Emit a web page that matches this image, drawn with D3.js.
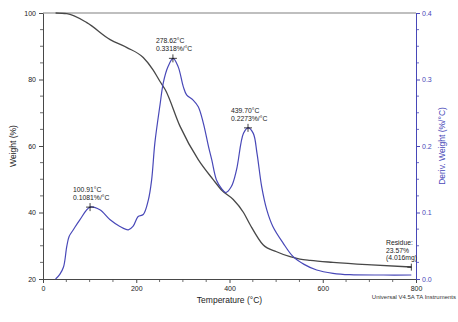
<!DOCTYPE html>
<html>
<head>
<meta charset="utf-8">
<script src="https://cdn.jsdelivr.net/npm/d3@7"></script>
<style>
  body { margin: 0; background: #fff; }
  svg text { font-family: "Liberation Sans", Arial, sans-serif; }
</style>
</head>
<body>
<svg id="chart" width="458" height="322"></svg>
<script>
// Weight (%) vs temperature (°C)
const weightTemp = [27, 51, 94, 144, 180, 215, 236, 251, 262, 294, 333, 365, 384, 408, 430, 444, 472, 501, 530, 551, 573, 622, 695, 790];
const weightVals = [100, 99.8, 97.1, 92, 89.6, 86.6, 82.9, 79.4, 77, 65.9, 55.9, 49.9, 46.6, 43.9, 40, 36.4, 30.3, 28.2, 26.7, 26.0, 25.6, 25.0, 24.3, 23.6];

// Derivative weight (%/°C)
const derivTemp = [27, 36, 44, 51, 56, 65, 79, 101, 122, 144, 165, 183, 193, 204, 215, 226, 233, 240, 251, 258, 268, 279, 290, 301, 308, 322, 333, 344, 355, 362, 372, 383, 392, 404, 415, 430, 440, 451, 459, 469, 480, 493, 515, 536, 560, 587, 622, 658, 730, 790];
const derivVals = [0, 0.007, 0.018, 0.049, 0.064, 0.074, 0.089, 0.1081, 0.104, 0.089, 0.079, 0.074, 0.079, 0.094, 0.097, 0.119, 0.149, 0.205, 0.262, 0.295, 0.319, 0.3318, 0.319, 0.289, 0.277, 0.269, 0.259, 0.234, 0.199, 0.179, 0.149, 0.136, 0.130, 0.139, 0.164, 0.219, 0.2273, 0.219, 0.189, 0.139, 0.104, 0.079, 0.054, 0.034, 0.022, 0.0135, 0.0086, 0.0065, 0.006, 0.006];

// Peak annotations
const peakTemps = [100.91, 278.62, 439.70];
const peakRates = [0.1081, 0.3318, 0.2273];
const residue = { temp: 790, weight: 23.57, mass: 4.016 };

const xTicks = [0, 200, 400, 600, 800];
const yTicks = [20, 40, 60, 80, 100];
const y2Ticks = [0, 0.1, 0.2, 0.3, 0.4];

const blue = '#4848b8';
const grey = '#484848';
const margin = { top: 13, right: 42, bottom: 43, left: 43 };
const width = 458, height = 322;

const svg = d3.select('#chart');

const x = d3.scaleLinear().domain([0, 800]).range([margin.left, width - margin.right]);
const y = d3.scaleLinear().domain([20, 100]).range([height - margin.bottom, margin.top]);
const y2 = d3.scaleLinear().domain([0, 0.4]).range([height - margin.bottom, margin.top]);

// top frame line
svg.append('line')
    .attr('x1', x(0)).attr('x2', x(800))
    .attr('y1', y(100)).attr('y2', y(100))
    .attr('stroke', '#aaa').attr('stroke-width', 1.5);

// minor ticks
const minor = (g, scale, vals, orient, color) => {
    vals.forEach(v => {
        const p = scale(v);
        const ln = g.append('line').attr('stroke', color).attr('stroke-width', 0.8);
        if (orient === 'left') ln.attr('x1', -3).attr('x2', 0).attr('y1', p).attr('y2', p);
        if (orient === 'right') ln.attr('x1', 0).attr('x2', 3).attr('y1', p).attr('y2', p);
        if (orient === 'bottom') ln.attr('y1', 0).attr('y2', 3).attr('x1', p).attr('x2', p);
    });
};

// x axis
const gx = svg.append('g')
    .attr('transform', `translate(0,${height - margin.bottom})`)
    .call(d3.axisBottom(x).tickValues(xTicks).tickSize(4).tickPadding(3).tickSizeOuter(0));
minor(gx, x, d3.range(50, 800, 50).filter(v => v % 200), 'bottom', grey);

// left axis
const gy = svg.append('g')
    .attr('transform', `translate(${margin.left},0)`)
    .call(d3.axisLeft(y).tickValues(yTicks).tickSize(4).tickPadding(3).tickSizeOuter(0));
minor(gy, y, d3.range(25, 100, 5).filter(v => v % 20), 'left', grey);

// right axis
const gy2 = svg.append('g')
    .attr('transform', `translate(${width - margin.right},0)`)
    .call(d3.axisRight(y2).tickValues(y2Ticks).tickFormat(d3.format('.1f')).tickSize(4).tickPadding(2).tickSizeOuter(0));
minor(gy2, y2, d3.range(1, 16).map(i => i * 0.025).filter(v => Math.abs(v * 10 - Math.round(v * 10)) > 1e-6), 'right', blue);

[gx, gy].forEach(g => {
    g.selectAll('path, line').attr('stroke', grey);
    g.selectAll('text').attr('fill', '#222').style('font-size', '7px');
});
gy2.selectAll('path, line').attr('stroke', blue);
gy2.selectAll('text').attr('fill', blue).style('font-size', '7px');

// axis titles
svg.append('text')
    .attr('x', (x(0) + x(800)) / 2).attr('y', 303)
    .attr('text-anchor', 'middle').style('font-size', '8.5px').attr('fill', '#222')
    .text('Temperature (°C)');
svg.append('text')
    .attr('transform', `translate(16,${(y(20) + y(100)) / 2}) rotate(-90)`)
    .attr('text-anchor', 'middle').style('font-size', '8.5px').attr('fill', '#222')
    .text('Weight (%)');
svg.append('text')
    .attr('transform', `translate(444.5,${(y(20) + y(100)) / 2}) rotate(-90)`)
    .attr('text-anchor', 'middle').style('font-size', '8.5px').attr('fill', blue)
    .text('Deriv. Weight (%/°C)');
svg.append('text')
    .attr('x', 456).attr('y', 299)
    .attr('text-anchor', 'end').style('font-size', '6px').attr('fill', '#333')
    .text('Universal V4.5A TA Instruments');

// curves
const wLine = d3.line()
    .x((d, i) => x(weightTemp[i]))
    .y(d => y(d))
    .curve(d3.curveMonotoneX);
svg.append('path')
    .attr('d', wLine(weightVals))
    .attr('fill', 'none').attr('stroke', grey).attr('stroke-width', 1.3);

const dLine = d3.line()
    .x((d, i) => x(derivTemp[i]))
    .y(d => y2(d))
    .curve(d3.curveCatmullRom);
svg.append('path')
    .attr('d', dLine(derivVals))
    .attr('fill', 'none').attr('stroke', blue).attr('stroke-width', 1.2);

// peak markers and labels
const fmtT = d3.format('.2f');
peakTemps.forEach((t, i) => {
    const px = x(t), py = y2(peakRates[i]);
    svg.append('path')
        .attr('d', `M${px - 4},${py}H${px + 4}M${px},${py - 4}V${py + 4}`)
        .attr('stroke', '#111').attr('stroke-width', 0.8);
    const lbl = svg.append('text')
        .attr('x', px - 17).attr('y', py - 15)
        .style('font-size', '6.8px').attr('fill', '#222');
    lbl.append('tspan').attr('x', px - 17).text(`${fmtT(t)}°C`);
    lbl.append('tspan').attr('x', px - 17).attr('dy', 8).text(`${peakRates[i].toFixed(4)}%/°C`);
});

// residue marker
const rx = x(residue.temp), ry = y(residue.weight);
svg.append('path')
    .attr('d', `M${rx - 4},${ry}H${rx}M${rx},${ry - 3.5}V${ry + 3.5}`)
    .attr('stroke', '#111').attr('stroke-width', 0.8);
const rl = svg.append('text').style('font-size', '6.8px').attr('fill', '#222');
['Residue:', `${residue.weight}%`, `(${residue.mass}mg)`].forEach((s, i) => {
    rl.append('tspan').attr('x', 386).attr('y', 245 + i * 7.5).text(s);
});
</script>
</body>
</html>
